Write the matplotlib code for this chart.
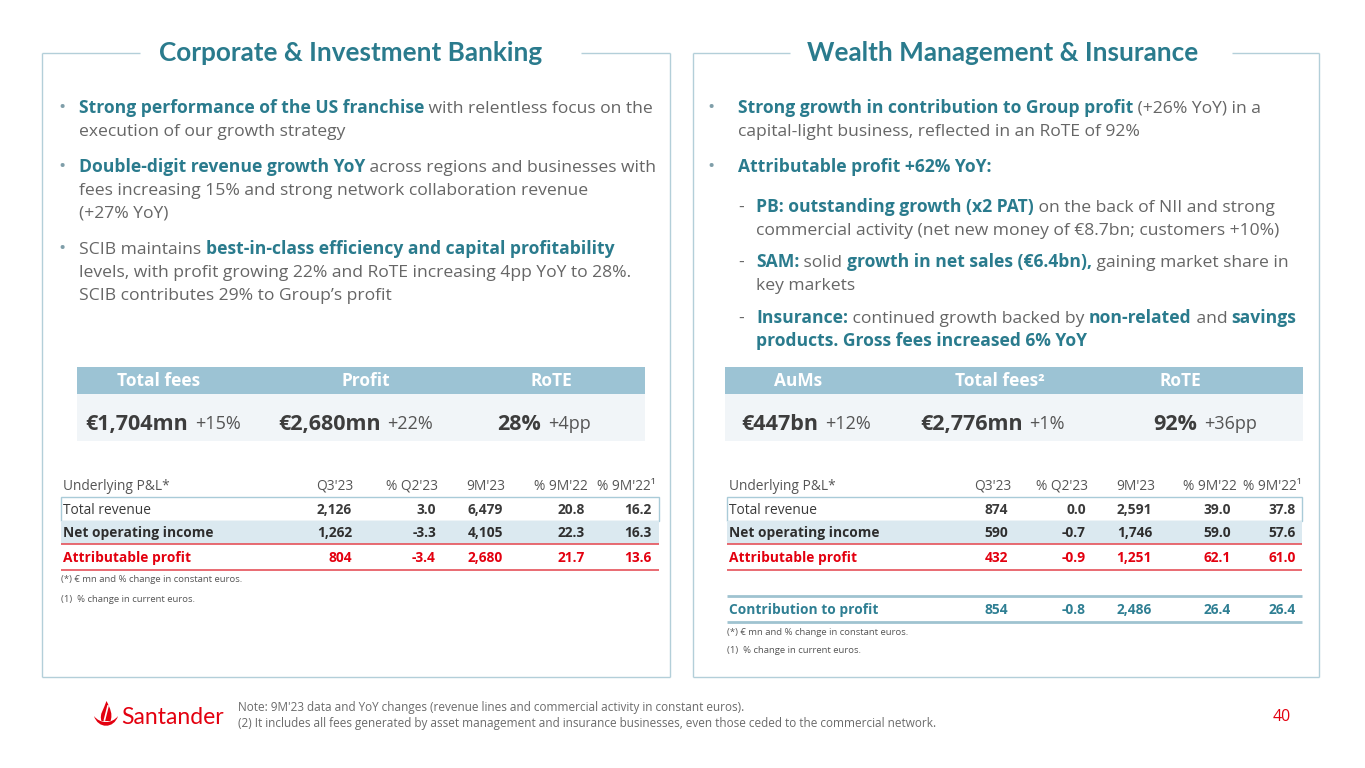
import matplotlib
matplotlib.use("Agg")
import matplotlib.pyplot as plt
from matplotlib.patches import Rectangle, PathPatch
from matplotlib.path import Path

# ---------------- data ----------------
titles = ["Corporate & Investment Banking", "Wealth Management & Insurance"]

left_bullets = [
    [[("Strong performance of the US franchise", True), (" with relentless focus on the", False)],
     [("execution of our growth strategy", False)]],
    [[("Double-digit revenue growth YoY", True), (" across regions and businesses with", False)],
     [("fees increasing 15% and strong network collaboration revenue", False)],
     [("(+27% YoY)", False)]],
    [[("SCIB maintains ", False), ("best-in-class efficiency and capital profitability", True)],
     [("levels, with profit growing 22% and RoTE increasing 4pp YoY to 28%.", False)],
     [("SCIB contributes 29% to Group\u2019s profit", False)]],
]

right_bullets = [
    [[("Strong growth in contribution to Group profit", True), (" (+26% YoY) in a", False)],
     [("capital-light business, reflected in an RoTE of 92%", False)]],
    [[("Attributable profit +62% YoY:", True)]],
]
right_sub = [
    [[("PB: outstanding growth (x2 PAT)", True), (" on the back of NII and strong", False)],
     [("commercial activity (net new money of \u20ac8.7bn; customers +10%)", False)]],
    [[("SAM:", True), (" solid ", False), ("growth in net sales (\u20ac6.4bn),", True), (" gaining market share in", False)],
     [("key markets", False)]],
    [[("Insurance:", True), (" continued growth backed by ", False), ("non-related", True), (" and ", False), ("savings", True)],
     [("products. Gross fees increased 6% YoY", True)]],
]

kpi_left_heads = ["Total fees", "Profit", "RoTE"]
kpi_left_vals = ["\u20ac1,704mn", "\u20ac2,680mn", "28%"]
kpi_left_chg = ["+15%", "+22%", "+4pp"]
kpi_right_heads = ["AuMs", "Total fees\u00b2", "RoTE"]
kpi_right_vals = ["\u20ac447bn", "\u20ac2,776mn", "92%"]
kpi_right_chg = ["+12%", "+1%", "+36pp"]

col_heads = ["Q3'23", "% Q2'23", "9M'23", "% 9M'22", "% 9M'22\u00b9"]
row_labels = ["Total revenue", "Net operating income", "Attributable profit"]
left_rows = [["2,126", "3.0", "6,479", "20.8", "16.2"],
             ["1,262", "-3.3", "4,105", "22.3", "16.3"],
             ["804", "-3.4", "2,680", "21.7", "13.6"]]
right_rows = [["874", "0.0", "2,591", "39.0", "37.8"],
              ["590", "-0.7", "1,746", "59.0", "57.6"],
              ["432", "-0.9", "1,251", "62.1", "61.0"]]
contrib_label = "Contribution to profit"
contrib_row = ["854", "-0.8", "2,486", "26.4", "26.4"]

footnotes = ["(*) \u20ac mn and % change in constant euros.", "(1)  % change in current euros."]
note_lines = ["Note: 9M'23 data and YoY changes (revenue lines and commercial activity in constant euros).",
              "(2) It includes all fees generated by asset management and insurance businesses, even those ceded to the commercial network."]
page_no = "40"

# ---------------- style ----------------
FONT = "Open Sans"
TFONT = "Lato"
TEAL = "#2a7b8d"
GRAY = "#666666"
DARK = "#3c3c3c"
RED = "#e3000f"
BORDER = "#b3cfd9"
HEADBAR = "#9cc3d4"
VALBG = "#f1f5f8"
ROWBG = "#dbe9f0"
LINEBLUE = "#a9cbd8"
LINERED = "#e5525a"

fig = plt.figure(figsize=(13.65, 7.68), dpi=100)
ax = fig.add_axes([0, 0, 1, 1])
ax.set_xlim(0, 1365)
ax.set_ylim(768, 0)
ax.axis("off")
renderer = fig.canvas.get_renderer()


def T(x, y, s, size, color=DARK, bold=False, ha="left", family=FONT, **kw):
    # y is the visual centre of the text; place baseline below it
    yb = y + 0.33 * size * 100 / 72
    return ax.text(x, yb, s, fontsize=size, color=color, family=family,
                   fontweight="bold" if bold else "normal", ha=ha,
                   va="baseline", **kw)


def rich(x, y, runs, size, ncolor=GRAY, bcolor=TEAL):
    for s, b in runs:
        t = T(x, y, s, size, color=bcolor if b else ncolor, bold=b)
        x += t.get_window_extent(renderer).width


def hline(x0, x1, y, color, lw=1.0):
    ax.plot([x0, x1], [y, y], color=color, lw=lw, solid_capstyle="butt")


def vline(x, y0, y1, color, lw=1.0):
    ax.plot([x, x], [y0, y1], color=color, lw=lw, solid_capstyle="butt")


# ---------------- panels ----------------
panels = [(42, 670, 140, 581, 351), (693, 1319, 790, 1232, 1003)]
for (x0, x1, g0, g1, tc), title in zip(panels, titles):
    hline(x0, g0, 53, BORDER, 1.0)
    hline(g1, x1, 53, BORDER, 1.0)
    vline(x0, 53, 677, BORDER, 1.0)
    vline(x1, 53, 677, BORDER, 1.0)
    hline(x0, x1, 677, BORDER, 1.0)
    T(tc, 52, title, 18.8, color=TEAL, bold=True, ha="center", family=TFONT)

BSIZE = 12.6
BULLET = "#7f9ea9"
# left bullets
ys = [[107, 130], [166, 189, 212], [248, 271, 294]]
for lines, yl in zip(left_bullets, ys):
    T(58, yl[0], "\u2022", BSIZE + 1, color=BULLET)
    for runs, y in zip(lines, yl):
        rich(79, y, runs, BSIZE)

# right bullets
ys = [[107, 130], [166]]
for lines, yl in zip(right_bullets, ys):
    T(707, yl[0], "\u2022", BSIZE + 1, color=BULLET)
    for runs, y in zip(lines, yl):
        rich(738, y, runs, BSIZE)
ys = [[206, 229], [261, 284], [317, 340]]
for lines, yl in zip(right_sub, ys):
    T(738, yl[0], "-", BSIZE, color=GRAY)
    for runs, y in zip(lines, yl):
        rich(756, y, runs, BSIZE)

# ---------------- KPI boxes ----------------
def kpi(x0, x1, heads, head_cx, vals, chg, vx):
    ax.add_patch(Rectangle((x0, 367), x1 - x0, 27, facecolor=HEADBAR, edgecolor="none"))
    ax.add_patch(Rectangle((x0, 394), x1 - x0, 47, facecolor=VALBG, edgecolor="none"))
    for h, cx in zip(heads, head_cx):
        T(cx, 380, h, 12.5, color="white", bold=True, ha="center")
    for v, c, x in zip(vals, chg, vx):
        t = T(x, 423, v, 15.5, color="#3d3d3d", bold=True)
        w = t.get_window_extent(renderer).width
        T(x + w + 7, 423, c, 13, color="#555555")


kpi(77, 645, kpi_left_heads, [159, 366, 551], kpi_left_vals, kpi_left_chg, [85, 278, 497])
kpi(725, 1303, kpi_right_heads, [798, 1000, 1180], kpi_right_vals, kpi_right_chg, [741, 920, 1153])

# ---------------- tables ----------------
def table(x0, x1, head_right, val_right, rows, contrib=None):
    TS = 9.9
    T(x0 + 2, 485, "Underlying P&L*", TS, color="#555555")
    for h, xr in zip(col_heads, head_right):
        T(xr, 485, h, TS, color="#555555", ha="right")
    ax.add_patch(Rectangle((x0, 497), x1 - x0, 24, facecolor="white", edgecolor=LINEBLUE, lw=1.0))
    ax.add_patch(Rectangle((x0, 521), x1 - x0, 23, facecolor=ROWBG, edgecolor="none"))
    hline(x0, x1, 544, LINERED, 1.2)
    hline(x0, x1, 570, LINERED, 1.2)
    ycent = [509, 532, 557]
    styles = [("#3a3a3a", False), ("#2e2e2e", True), (RED, True)]
    for lab, vals, y, (c, b) in zip(row_labels, rows, ycent, styles):
        T(x0 + 2, y, lab, TS, color=c, bold=b)
        for v, xr in zip(vals, val_right):
            T(xr, y, v, TS, color=c, bold=True, ha="right")
    fy = [579, 599]
    if contrib is not None:
        hline(x0, x1, 596, "#9fc3d0", 2.0)
        hline(x0, x1, 622, "#9fc3d0", 2.0)
        T(x0 + 2, 609, contrib_label, TS, color="#2f7f93", bold=True)
        for v, xr in zip(contrib, val_right):
            T(xr, 609, v, TS, color="#2f7f93", bold=True, ha="right")
        fy = [632, 650]
    for f, y in zip(footnotes, fy):
        T(x0, y, f, 6.8, color="#555555")


table(61, 659, [353, 438, 505, 588, 656], [352, 436, 503, 585, 651], left_rows)
table(727, 1302, [1011, 1088, 1155, 1237, 1302], [1008, 1086, 1152, 1231, 1296], right_rows, contrib_row)

# ---------------- footer ----------------
flame = Path([(101.5, 721), (99, 714), (104, 709), (106.5, 701),
              (110, 708), (113, 714), (110.5, 721), (101.5, 721)],
             [Path.MOVETO, Path.CURVE4, Path.CURVE4, Path.CURVE4,
              Path.CURVE4, Path.CURVE4, Path.CURVE4, Path.CLOSEPOLY])
ax.add_patch(PathPatch(flame, facecolor=RED, edgecolor="none"))
ax.plot([104.5, 108], [720, 706], color="white", lw=1.2)
bowl = Path([(94, 716), (98, 729), (114, 729), (118, 716),
             (112, 724), (100, 724), (94, 716)],
            [Path.MOVETO, Path.CURVE4, Path.CURVE4, Path.CURVE4,
             Path.CURVE4, Path.CURVE4, Path.CURVE4])
ax.add_patch(PathPatch(bowl, facecolor=RED, edgecolor="none"))
T(121, 716, "Santander", 16.5, color=RED, family=TFONT)

T(238, 707, note_lines[0], 8.5, color="#6a6a6a")
T(238, 723, note_lines[1], 8.5, color="#6a6a6a")
T(1282, 716, page_no, 11.5, color=RED, ha="center")

fig.savefig("out.png", dpi=100, facecolor="white")
